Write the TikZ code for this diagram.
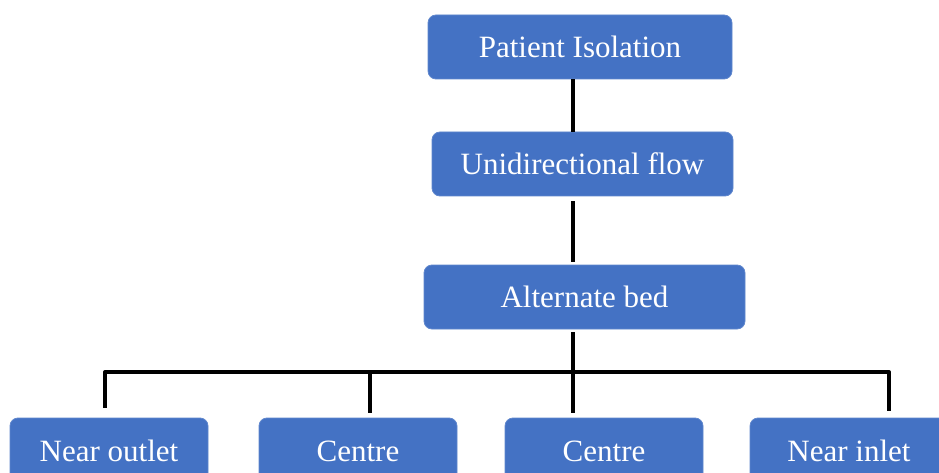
\documentclass[tikz,border=0pt]{standalone}
\usepackage{fontspec}
\setmainfont{Liberation Serif}
\begin{document}
\begin{tikzpicture}[x=1pt,y=-1pt,
  box/.style={fill=boxblue, draw=boxblue!85!white, line width=0.8pt, rounded corners=8pt, text=white,
    inner sep=0pt, minimum height=64pt, font=\fontsize{31}{36}\selectfont},
  conn/.style={line width=4pt, line join=round}]
\definecolor{boxblue}{HTML}{4472C4}
\clip (0,0) rectangle (939,473);
\fill[white] (0,0) rectangle (939,473);
\node[box, minimum width=304pt] (p) at (580,47) {Patient Isolation};
\node[box, minimum width=301pt] (u) at (582.5,164) {Unidirectional flow};
\node[box, minimum width=321pt] (a) at (584.5,297) {Alternate bed};
\node[box, minimum width=198pt, minimum height=66pt] (o) at (109,451) {Near outlet};
\node[box, minimum width=198pt, minimum height=66pt] (c1) at (358,451) {Centre};
\node[box, minimum width=198pt, minimum height=66pt] (c2) at (604,451) {Centre};
\node[box, minimum width=198pt, minimum height=66pt] (i) at (849,451) {Near inlet};
\coordinate (v) at (573,0);
\coordinate (bl) at (105,372);
\coordinate (bc) at (370,372);
\coordinate (br) at (889,372);
\draw[conn] (p.south -| v) -- (u.north -| v);
\draw[conn] ([yshift=-5pt]u.south -| v) -- ([yshift=3pt]a.north -| v);
\draw[conn] ([yshift=-3pt]a.south -| v) -- ([yshift=5pt]c2.north -| v);
\draw[conn] ([yshift=10pt]o.north -| bl) -- (bl) -- (br) -- ([yshift=7pt]i.north -| br);
\draw[conn] (bc) -- ([yshift=5pt]c1.north -| bc);
\end{tikzpicture}
\end{document}
